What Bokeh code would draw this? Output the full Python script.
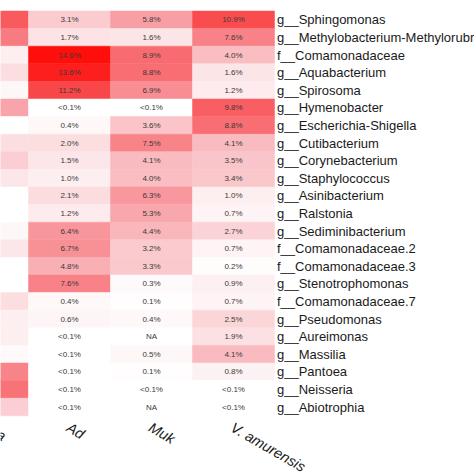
import math
from bokeh.plotting import figure
from bokeh.models import Range1d, ColumnDataSource
from bokeh.core.properties import value
from bokeh.embed import file_html
from bokeh.resources import INLINE

# ---- data ----
taxa = [
    "g__Sphingomonas", "g__Methylobacterium-Methylorubrum", "f__Comamonadaceae",
    "g__Aquabacterium", "g__Spirosoma", "g__Hymenobacter", "g__Escherichia-Shigella",
    "g__Cutibacterium", "g__Corynebacterium", "g__Staphylococcus", "g__Asinibacterium",
    "g__Ralstonia", "g__Sediminibacterium", "f__Comamonadaceae.2", "f__Comamonadaceae.3",
    "g__Stenotrophomonas", "f__Comamonadaceae.7", "g__Pseudomonas", "g__Aureimonas",
    "g__Massilia", "g__Pantoea", "g__Neisseria", "g__Abiotrophia",
]
samples = ["Sta", "Ad", "Muk", "V. amurensis"]

# relative abundance (%); 0.05 stands for "<0.1%", None for NA
sta = [10.0, 8.0, 1.0, 2.0, 0.5, 5.5, 0.05, 2.0, 3.0, 1.5, 0.05, 0.05,
       0.5, 1.5, 0.05, 0.05, 2.0, 1.0, 1.0, 0.3, 7.5, 8.5, 3.0]
ad = [3.1, 1.7, 14.6, 13.6, 11.2, 0.05, 0.4, 2.0, 1.5, 1.0, 2.1, 1.2,
      6.4, 6.7, 4.8, 7.6, 0.4, 0.6, 0.05, 0.05, 0.05, 0.05, 0.05]
muk = [5.8, 1.6, 8.9, 8.8, 6.9, 0.05, 3.6, 7.5, 4.1, 4.0, 6.3, 5.3,
       4.4, 3.2, 3.3, 0.3, 0.1, 0.4, None, 0.5, 0.1, 0.05, None]
vam = [10.9, 7.6, 4.0, 1.6, 1.2, 9.8, 8.8, 4.1, 3.5, 3.4, 1.0, 0.7,
       2.7, 0.7, 0.2, 0.9, 0.7, 2.5, 1.9, 4.1, 0.8, 0.05, 0.05]
series = [sta, ad, muk, vam]
vmax = 15.0


def to_color(v):
    if v is None or v < 0.1:
        return "#ffffff"
    t = min(v / vmax, 1.0)
    r = 255 - 30 * t * (1 - t)
    g = 255 * (1 - t) + 8 * t
    b = 255 * (1 - t) + 30 * t * (1 - t) + 4 * t
    return "#%02x%02x%02x" % (int(round(r)), int(round(g)), int(round(b)))


def to_label(v):
    if v is None:
        return "NA"
    if v < 0.1:
        return "<0.1%"
    return "%.1f%%" % v


xs, ys, cols = [], [], []
for ci, vals in enumerate(series):
    for ri, v in enumerate(vals):
        xs.append(ci)
        ys.append(ri)
        cols.append(to_color(v))
cells = ColumnDataSource(dict(x=xs, y=ys, c=cols))

# value labels only for the columns whose centres are inside the view
tx, ty, tt = [], [], []
for ci, vals in enumerate(series[1:], start=1):
    for ri, v in enumerate(vals):
        tx.append(ci)
        ty.append(ri)
        tt.append(to_label(v))
texts = ColumnDataSource(dict(x=tx, y=ty, t=tt))

p = figure(width=474, height=474,
           x_range=Range1d(0.1585, 5.939), y_range=Range1d(25.835, -1.097),
           output_backend="svg", toolbar_location=None, min_border=0)
p.axis.visible = False
p.grid.visible = False
p.outline_line_color = None
p.background_fill_color = "#ffffff"

p.rect(x="x", y="y", width=1, height=1, source=cells,
       fill_color="c", line_color="c", line_width=0.5)
p.text(x="x", y="y", text="t", source=texts, text_align="center",
       text_baseline="middle", text_font=value("Liberation Sans"),
       text_font_size="8px", text_color="#3a3a3a")

# row labels
p.text(x=[3.53] * len(taxa), y=list(range(len(taxa))), text=taxa,
       text_align="left", text_baseline="middle",
       text_font=value("Liberation Sans"), text_font_size="13px",
       text_color="#1a1a1a")

# column labels
p.text(x=[i + 0.03 for i in range(len(samples))], y=[22.7] * len(samples),
       text=samples, angle=-30, angle_units="deg", text_align="left",
       text_baseline="top", text_font=value("Liberation Sans"),
       text_font_style="italic", text_font_size="14.5px", text_color="#1a1a1a")

open("out.html", "w").write(file_html(p, INLINE))
